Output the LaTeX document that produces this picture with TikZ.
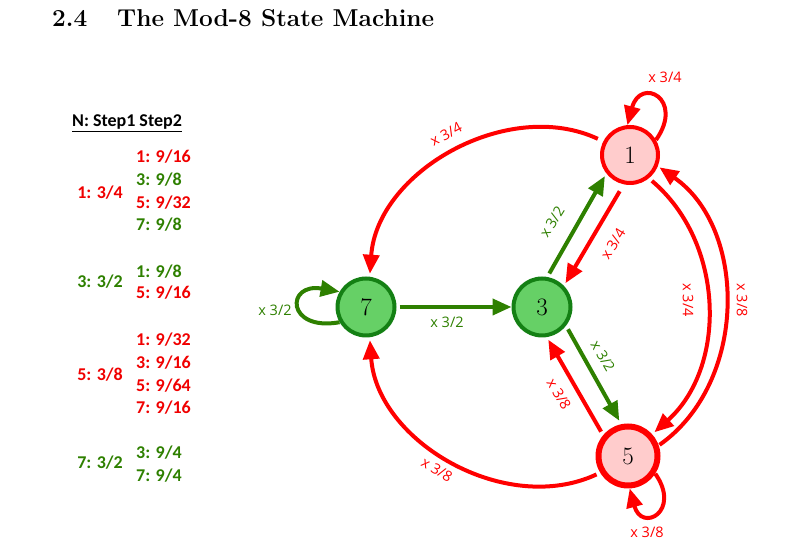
\documentclass[tikz,border=0pt]{standalone}
\usepackage{fontspec}
\newfontfamily\lblfont{Open Sans}
\newfontfamily\tabfont{Carlito}
\usetikzlibrary{arrows.meta}
\definecolor{edgered}{RGB}{255,0,0}
\definecolor{edgegreen}{RGB}{46,128,0}
\definecolor{nodegreen}{RGB}{20,128,20}
\definecolor{fillgreen}{RGB}{102,208,102}
\definecolor{fillpink}{RGB}{255,204,204}
\definecolor{txtred}{RGB}{240,0,0}
\definecolor{txtgreen}{RGB}{46,128,0}
\begin{document}
\begin{tikzpicture}[x=1pt,y=1pt,
  state/.style={circle,inner sep=0pt,font=\fontsize{25}{28}\selectfont},
  redstate/.style={state,draw=edgered,fill=fillpink,line width=4pt,minimum size=56pt},
  greenstate/.style={state,draw=nodegreen,fill=fillgreen,line width=4pt,minimum size=57pt},
  edge/.style={line width=4pt,-{Triangle[length=19pt,width=16pt]}},
  redge/.style={edge,draw=edgered},
  gedge/.style={edge,draw=edgegreen},
  lbl/.style={inner sep=0pt,font=\lblfont\fontsize{14.5}{17}\selectfont},
  rlbl/.style={lbl,text=edgered},
  glbl/.style={lbl,text=edgegreen},
  tab/.style={inner sep=0pt,font=\tabfont\bfseries\fontsize{18}{21}\selectfont},
  tabr/.style={tab,text=txtred},
  tabg/.style={tab,text=txtgreen},
  col2r/.style={tabr,anchor=west},
  col2g/.style={tabg,anchor=west},
  ttl/.style={anchor=base west,inner sep=0pt,font=\fontsize{24.4}{29}\selectfont\bfseries}
]
\useasboundingbox (0,0) rectangle (804,553);

% title
\node[ttl] (secnum) at (52,526) {2.4};
\node[ttl] (sectitle) at (117,526) {The Mod-8 State Machine};

% table
\node[tab] (hdr) at (127,430) {\underline{N: Step1 Step2}};
\node[tabr] (a1) at (100,360) {1: 3/4};
\node[tabg] (a3) at (100,271) {3: 3/2};
\node[tabr] (a5) at (100,178) {5: 3/8};
\node[tabg] (a7) at (100,90) {7: 3/2};
\node[col2r] (b11) at (136,396) {1: 9/16};
\node[col2g] (b13) at (136,373) {3: 9/8};
\node[col2r] (b15) at (136,350) {5: 9/32};
\node[col2g] (b17) at (136,328) {7: 9/8};
\node[col2g] (b31) at (136,281) {1: 9/8};
\node[col2r] (b35) at (136,260) {5: 9/16};
\node[col2r] (b51) at (136,213) {1: 9/32};
\node[col2r] (b53) at (136,190) {3: 9/16};
\node[col2r] (b55) at (136,167) {5: 9/64};
\node[col2r] (b57) at (136,145) {7: 9/16};
\node[col2g] (b73) at (136,100) {3: 9/4};
\node[col2g] (b77) at (136,77) {7: 9/4};

% states
\node[redstate] (n1) at (630,398) {1};
\node[greenstate] (n7) at (366,246) {7};
\node[greenstate] (n3) at (542,246) {3};
\node[redstate,line width=6pt,minimum size=59pt] (n5) at (628,97) {5};

% edges
\draw[redge] (n1.30) to[out=55,in=75,looseness=4] (n1.95);
\draw[redge,shorten <=6pt,shorten >=3pt] (n1.153) to[out=155,in=86,looseness=1.0] (n7.83);
\draw[gedge,shorten <=4pt,shorten >=3pt] (n3.80) -- (n1.218);
\draw[redge,shorten <=8pt,shorten >=3pt] (n1.258) -- (n3.44);
\draw[redge,shorten <=4pt,shorten >=3pt] (n1.-51) to[bend left=49] (n5.42);
\draw[redge,shorten <=1pt,shorten >=2pt] (n5.19) to[bend right=55] (n1.-22);
\draw[gedge,shorten <=4pt,shorten >=4pt] (n3.-38) -- (n5.102.5);
\draw[redge,shorten <=4pt,shorten >=3pt] (n5.140.6) -- (n3.-81.4);
\draw[redge,shorten <=4pt,shorten >=3pt] (n5.211) to[out=205,in=-86,looseness=1.0] (n7.-83);
\draw[redge] (n5.-33) to[out=-55,in=-75,looseness=4] (n5.-87);
\draw[gedge] (n7.210) to[out=190,in=170,looseness=4.6] (n7.150);
\draw[gedge,shorten <=3pt] (n7) -- (n3);

% edge labels
\node[rlbl] (l11) at (665,476) {x 3/4};
\node[rlbl,rotate=28] (l17) at (446,419) {x 3/4};
\node[glbl,rotate=58] (l31) at (552,331) {x 3/2};
\node[rlbl,rotate=58] (l13) at (613,309) {x 3/4};
\node[rlbl,rotate=-90] (l15) at (688,253) {x 3/4};
\node[rlbl,rotate=-90] (l51) at (742,253) {x 3/8};
\node[glbl,rotate=-60] (l35) at (603,197) {x 3/2};
\node[rlbl,rotate=-60] (l53) at (559,159) {x 3/8};
\node[rlbl,rotate=-31] (l57) at (437,83) {x 3/8};
\node[rlbl] (l55) at (647,21) {x 3/8};
\node[glbl] (l77) at (275,243) {x 3/2};
\node[glbl] (l73) at (447,231) {x 3/2};
\end{tikzpicture}
\end{document}
